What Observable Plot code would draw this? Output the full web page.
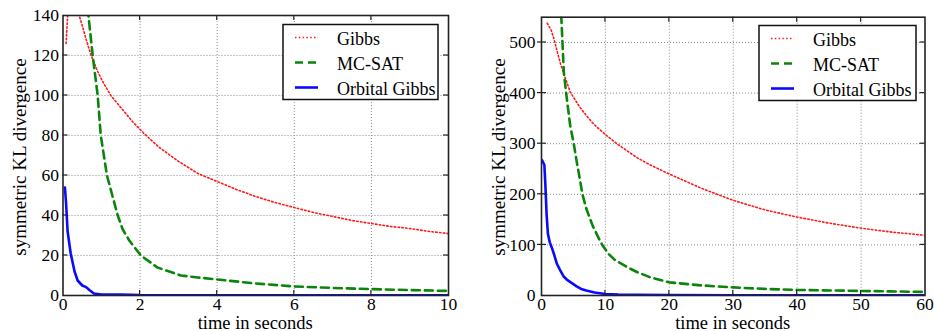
<!DOCTYPE html>
<html><head><meta charset="utf-8">
<script src="https://cdn.jsdelivr.net/npm/d3@7"></script>
<script src="https://cdn.jsdelivr.net/npm/@observablehq/plot@0.6"></script>
<style>
body{margin:0;background:#fff;}
#wrap{display:flex;width:934px;height:331px;overflow:hidden;}
</style></head><body><div id="wrap"></div>
<script>
// ---- data ----
const seriesNames = ["Gibbs", "MC-SAT", "Orbital Gibbs"];
const xTitle = "time in seconds";
const yTitle = "symmetric KL divergence";

const leftXTicks = [0, 2, 4, 6, 8, 10];
const leftYTicks = [0, 20, 40, 60, 80, 100, 120, 140];
const rightXTicks = [0, 10, 20, 30, 40, 50, 60];
const rightYTicks = [0, 100, 200, 300, 400, 500];

// left panel
const gibbsLT = [0.08, 0.12, 0.2, 0.3, 0.42, 0.5, 0.6, 0.73, 0.9, 1.0, 1.24, 1.5, 1.8, 2.1, 2.5, 3.0, 3.5, 4.0, 4.5, 5.0, 5.5, 6.0, 6.5, 7.0, 7.5, 8.0, 8.5, 9.0, 9.5, 10];
const gibbsLV = [126, 140, 148, 146, 140, 135, 128, 120, 112, 108, 100, 94, 87, 81, 74, 67, 61, 57, 53, 49.5, 46.5, 44, 41.5, 39.5, 37.5, 36, 34.5, 33.5, 32, 31];
const mcsatLT = [0.62, 0.66, 0.77, 0.9, 0.98, 1.06, 1.14, 1.28, 1.42, 1.55, 1.72, 2.02, 2.45, 3.06, 3.5, 4, 5, 6, 7, 8, 9, 10];
const mcsatLV = [150, 140, 120, 100, 80, 70, 60, 50, 40, 33, 27.5, 20, 14, 10, 9, 8, 6, 4.5, 3.8, 3.2, 2.7, 2.3];
const orbLT = [0.05, 0.08, 0.12, 0.2, 0.3, 0.38, 0.5, 0.6, 0.7, 0.8, 1.0, 1.5, 2, 3, 10];
const orbLV = [54, 46, 32, 21, 12, 7.5, 5, 4.2, 2.5, 1, 0.5, 0.5, 0.2, 0.1, 0.05];

// right panel
const gibbsRT = [0.9, 1.5, 2, 2.5, 3, 3.5, 4.5, 6, 7, 8, 9, 10, 12, 15, 17, 20, 25, 30, 35, 40, 45, 50, 55, 60];
const gibbsRV = [538, 525, 505, 480, 457, 438, 402, 372, 356, 341, 329, 318, 298, 272, 258, 240, 212, 188, 169, 155, 143, 133, 125, 119];
const mcsatRT = [3.0, 3.1, 3.5, 4, 4.5, 5.05, 5.5, 6, 6.4, 7, 8, 9, 9.5, 10.5, 11.5, 13.4, 15, 17, 20, 25, 30, 35, 40, 50, 60];
const mcsatRV = [580, 550, 440, 385, 335, 300, 265, 230, 200, 172, 138, 112, 100, 82, 70, 56, 46, 36, 26, 20, 16, 13, 11, 9, 7];
const orbRT = [0.1, 0.45, 0.6, 0.8, 1.0, 1.3, 1.6, 2, 2.4, 3, 3.5, 4, 4.7, 5.5, 6.2, 7, 8.3, 10, 12, 15, 20, 30, 60];
const orbRV = [267, 258, 220, 160, 122, 105, 95, 80, 63, 48, 37, 31, 25, 18, 13, 10, 6, 3, 2, 1.5, 1, 0.6, 0.3];

// ---- styles ----
const seriesStyle = [
  {stroke: "#ff1a1a", strokeWidth: 1.6, strokeDasharray: "1.5,2.3"},
  {stroke: "#0a850a", strokeWidth: 2.6, strokeDasharray: "8,5"},
  {stroke: "#0a0aff", strokeWidth: 2.6, strokeDasharray: null}
];
const FONT = "'Liberation Serif', 'Times New Roman', 'DejaVu Serif', serif";

function rows(t, v) { return t.map((x, i) => ({t: x, v: v[i]})); }

function panel(o) {
  const interiorX = o.xTicks.slice(1, -1);
  const interiorY = o.yTicks.filter(d => d > o.yDomain[0] && d < o.yDomain[1]);
  const plot = Plot.plot({
    width: o.width, height: 331,
    marginLeft: o.ml, marginRight: o.mr, marginTop: o.mt, marginBottom: o.mb,
    x: {domain: o.xDomain},
    y: {domain: o.yDomain},
    style: {fontFamily: FONT, fontSize: "17.5px", color: "#000", background: "#fff", overflow: "visible"},
    marks: [
      Plot.gridX(interiorX, {stroke: "#8a8a8a", strokeOpacity: 1, strokeWidth: 1, strokeDasharray: "1,2"}),
      Plot.gridY(interiorY, {stroke: "#8a8a8a", strokeOpacity: 1, strokeWidth: 1, strokeDasharray: "1,2"}),
      ...o.series.map((s, i) => Plot.line(rows(s[0], s[1]), {x: "t", y: "v", clip: true, ...seriesStyle[i]})),
      Plot.frame({stroke: "#222", strokeWidth: 1.6}),
      Plot.axisX(o.xTicks, {tickSize: 0, tickPadding: 2.5, label: null, fontSize: 17.5}),
      Plot.axisY(o.yTicks, {tickSize: 0, tickPadding: o.yPad, label: null, fontSize: 17.5})
    ]
  });
  const sx = plot.scale("x"), sy = plot.scale("y");
  const svg = d3.select(plot);
  const L = o.ml, R = o.width - o.mr, T = o.mt, B = 331 - o.mb;
  const g = svg.append("g").attr("stroke", "#222").attr("stroke-width", 1.2);
  for (const t of interiorX) {
    const x = sx.apply(t);
    g.append("line").attr("x1", x).attr("x2", x).attr("y1", B).attr("y2", B - 5);
    g.append("line").attr("x1", x).attr("x2", x).attr("y1", T).attr("y2", T + 5);
  }
  for (const v of interiorY) {
    const y = sy.apply(v);
    g.append("line").attr("x1", L - o.outTick).attr("x2", L + 5).attr("y1", y).attr("y2", y);
    g.append("line").attr("x1", R).attr("x2", R - 5).attr("y1", y).attr("y2", y);
  }
  // axis titles
  svg.append("text").attr("x", (L + R) / 2).attr("y", 328.5).attr("text-anchor", "middle")
    .attr("font-family", FONT).attr("font-size", 18.5).attr("fill", "#000").text(xTitle);
  svg.append("text").attr("transform", `translate(${o.yTitleX},157) rotate(-90)`).attr("text-anchor", "middle")
    .attr("dominant-baseline", "central")
    .attr("font-family", FONT).attr("font-size", 19).attr("fill", "#000").text(yTitle);
  // legend
  const lg = svg.append("g").attr("transform", `translate(${o.lx},${o.ly})`);
  lg.append("rect").attr("width", o.lw).attr("height", 75).attr("fill", "#fff").attr("stroke", "#111").attr("stroke-width", 1.5);
  seriesNames.forEach((name, i) => {
    const y = 13 + i * 25;
    const st = seriesStyle[i];
    lg.append("line").attr("x1", 12).attr("x2", 35).attr("y1", y).attr("y2", y)
      .attr("stroke", st.stroke).attr("stroke-width", st.strokeWidth)
      .attr("stroke-dasharray", st.strokeDasharray);
    lg.append("text").attr("x", 54).attr("y", y + 1).attr("dominant-baseline", "central")
      .attr("text-anchor", "start")
      .attr("font-family", FONT).attr("font-size", 18).attr("fill", "#000").text(name);
  });
  return plot;
}

const wrap = document.getElementById("wrap");
wrap.appendChild(panel({
  width: 467, ml: 62.5, mr: 19, mt: 15, mb: 36,
  xDomain: [0, 10], yDomain: [0, 140], xTicks: leftXTicks, yTicks: leftYTicks,
  series: [[gibbsLT, gibbsLV], [mcsatLT, mcsatLV], [orbLT, orbLV]],
  yPad: 4, outTick: 0, yTitleX: 19, lx: 283, ly: 24.5, lw: 155
}));
wrap.appendChild(panel({
  width: 467, ml: 74, mr: 9.5, mt: 16.7, mb: 36,
  xDomain: [0, 60], yDomain: [0, 550], xTicks: rightXTicks, yTicks: rightYTicks,
  series: [[gibbsRT, gibbsRV], [mcsatRT, mcsatRV], [orbRT, orbRV]],
  yPad: 6, outTick: 4, yTitleX: 31, lx: 292, ly: 25.5, lw: 157
}));
</script></body></html>
